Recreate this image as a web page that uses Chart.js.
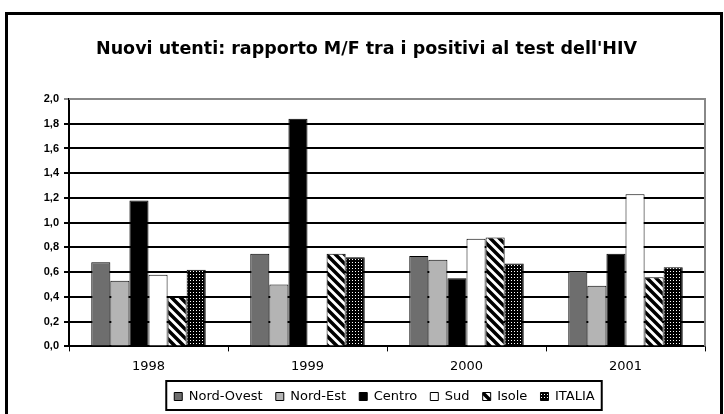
<!DOCTYPE html>
<html>
<head>
<meta charset="utf-8">
<script src="https://cdn.jsdelivr.net/npm/chart.js@4.4.1/dist/chart.umd.min.js"></script>
<style>
  html, body { margin: 0; padding: 0; background: #fff; }
  #wrap { width: 724px; height: 414px; position: relative; }
</style>
</head>
<body>
<div id="wrap"><canvas id="myChart" width="724" height="414"></canvas></div>
<script>
// dati
const anni = ["1998", "1999", "2000", "2001"];
const nordOvest = [0.68, 0.75, 0.73, 0.61];
const nordEst = [0.53, 0.50, 0.70, 0.49];
const centro = [1.18, 1.84, 0.55, 0.75];
const sud = [0.58, null, 0.87, 1.23];
const isole = [0.40, 0.75, 0.88, 0.56];
const italia = [0.62, 0.72, 0.67, 0.64];
const yTicks = [0, 0.2, 0.4, 0.6, 0.8, 1.0, 1.2, 1.4, 1.6, 1.8, 2.0];

const LEGENDA_DX = 20; // la legenda nell'originale è un po' spostata a destra

// pattern a righe diagonali (Isole)
function stripePattern() {
    const c = document.createElement("canvas");
    c.width = 9; c.height = 9;
    const g = c.getContext("2d");
    g.fillStyle = "#fff";
    g.fillRect(0, 0, 9, 9);
    g.strokeStyle = "#000";
    g.lineWidth = 3.5;
    g.beginPath();
    g.moveTo(-2, -2); g.lineTo(11, 11);
    g.moveTo(-11, -2); g.lineTo(2, 11);
    g.moveTo(7, -2); g.lineTo(20, 11);
    g.stroke();
    return g.createPattern(c, "repeat");
}

// pattern a puntini (ITALIA)
function dotPattern() {
    const c = document.createElement("canvas");
    c.width = 3; c.height = 3;
    const g = c.getContext("2d");
    g.fillStyle = "#000";
    g.fillRect(0, 0, 3, 3);
    g.fillStyle = "#fff";
    g.fillRect(1, 1, 1, 1);
    return g.createPattern(c, "repeat");
}

// cornice esterna, bordo area grafico e riquadro legenda
const cornice = {
    id: "cornice",
    afterLayout(chart) {
        chart.legend.left += LEGENDA_DX;
        chart.legend.right += LEGENDA_DX;
    },
    beforeDraw(chart) {
        const ctx = chart.ctx;
        ctx.save();
        ctx.strokeStyle = "#000";
        ctx.lineWidth = 3;
        ctx.strokeRect(6.5, 13.5, 715, 420);
        ctx.restore();
    },
    afterDraw(chart) {
        const ctx = chart.ctx;
        const a = chart.chartArea;
        ctx.save();
        ctx.strokeStyle = "#888";
        ctx.lineWidth = 2;
        ctx.beginPath();
        ctx.moveTo(a.left, a.top);
        ctx.lineTo(a.right, a.top);
        ctx.lineTo(a.right, a.bottom);
        ctx.stroke();
        const boxes = chart.legend.legendHitBoxes;
        if (boxes && boxes.length) {
            const l = Math.min(...boxes.map(b => b.left)) - 8;
            const r = Math.max(...boxes.map(b => b.left + b.width)) + 3;
            const t = boxes[0].top - 9;
            const h = boxes[0].height + 16;
            ctx.strokeStyle = "#000";
            ctx.lineWidth = 2;
            ctx.strokeRect(l, t, r - l, h);
        }
        ctx.restore();
    }
};

const ctx = document.getElementById("myChart").getContext("2d");

const serie = [
    { label: "Nord-Ovest", data: nordOvest, backgroundColor: "#6e6e6e" },
    { label: "Nord-Est", data: nordEst, backgroundColor: "#b4b4b4" },
    { label: "Centro", data: centro, backgroundColor: "#000000" },
    { label: "Sud", data: sud, backgroundColor: "#ffffff" },
    { label: "Isole", data: isole, backgroundColor: stripePattern() },
    { label: "ITALIA", data: italia, backgroundColor: dotPattern() }
];

new Chart(ctx, {
    type: "bar",
    data: {
        labels: anni,
        datasets: serie.map(s => ({
            ...s,
            borderColor: "#000",
            borderWidth: 1,
            categoryPercentage: 0.72,
            barPercentage: 1.0
        }))
    },
    options: {
        responsive: false,
        animation: false,
        layout: { padding: { left: 28, right: 19, top: 12, bottom: 1 } },
        plugins: {
            title: {
                display: true,
                text: "Nuovi utenti: rapporto M/F tra i positivi al test dell'HIV",
                color: "#000",
                font: { family: "DejaVu Sans", size: 17.5, weight: "bold" },
                padding: { top: 27, bottom: 39 }
            },
            legend: {
                position: "bottom",
                labels: {
                    color: "#000",
                    boxWidth: 8,
                    boxHeight: 8,
                    padding: 9,
                    font: { family: "DejaVu Sans", size: 13 },
                    // un po' più di spazio tra le voci, come nell'originale
                    generateLabels(chart) {
                        const items = Chart.defaults.plugins.legend.labels.generateLabels(chart);
                        items.forEach(it => { it.text = it.text + " "; });
                        return items;
                    }
                }
            },
            tooltip: { enabled: false }
        },
        scales: {
            x: {
                grid: { drawOnChartArea: false, drawTicks: true, tickLength: 5, color: "#000", offset: true },
                border: { color: "#000", width: 2 },
                ticks: { color: "#000", padding: 7, font: { family: "DejaVu Sans", size: 13 } }
            },
            y: {
                min: 0,
                max: 2,
                afterBuildTicks(scale) { scale.ticks = yTicks.map(v => ({ value: v })); },
                afterFit(scale) { scale.width = 41; },
                grid: {
                    color: c => (c.tick && c.tick.value === 2 ? "#888" : "#000"),
                    lineWidth: 2,
                    drawTicks: true,
                    tickLength: 5
                },
                border: { color: "#000", width: 2 },
                ticks: {
                    color: "#000",
                    padding: 5,
                    font: { family: "Liberation Sans", size: 11, weight: "bold" },
                    callback: v => Number(v).toFixed(1).replace(".", ",")
                }
            }
        }
    },
    plugins: [cornice]
});
</script>
</body>
</html>
